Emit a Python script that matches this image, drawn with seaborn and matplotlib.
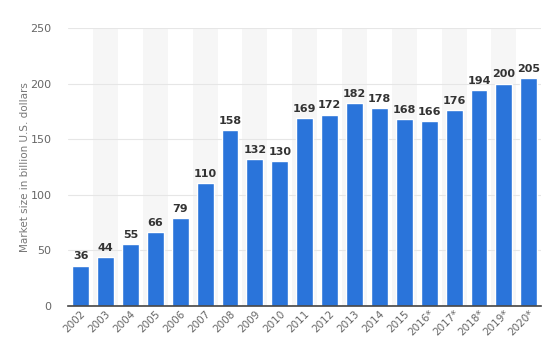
import seaborn as sns
import matplotlib.pyplot as plt
import pandas as pd

years = ['2002', '2003', '2004', '2005', '2006', '2007', '2008', '2009', '2010',
         '2011', '2012', '2013', '2014', '2015', '2016*', '2017*', '2018*',
         '2019*', '2020*']
market_size = [36, 44, 55, 66, 79, 110, 158, 132, 130, 169, 172, 182, 178,
               168, 166, 176, 194, 200, 205]
y_ticks = [0, 50, 100, 150, 200, 250]

df = pd.DataFrame({'year': years, 'size': market_size})

sns.set_style('white')
fig = plt.figure(figsize=(5.54, 3.5), dpi=100)
ax = fig.add_axes([0.123, 0.127, 0.854, 0.793])

# alternating column bands
for i in range(len(years)):
    if i % 2 == 1:
        ax.axvspan(i - 0.5, i + 0.5, color='#f6f6f6', zorder=0, lw=0)

sns.barplot(data=df, x='year', y='size', color='#2a74da', saturation=1,
            width=0.68, ax=ax, zorder=3)

for c in ax.containers:
    ax.bar_label(c, labels=[f'{v:.0f}' for v in market_size], padding=3,
                 fontsize=8, fontweight='bold', color='#333333')

ax.set_xlim(-0.5, len(years) - 0.5)
ax.set_ylim(0, 250)
ax.set_yticks(y_ticks)
ax.yaxis.grid(True, color='#e6e6e6', lw=0.8, zorder=1)
ax.set_axisbelow(True)
ax.tick_params(axis='y', labelsize=8, colors='#666666', length=0, pad=12)
ax.tick_params(axis='x', labelsize=7.5, colors='#666666', length=0, pad=2)
plt.setp(ax.get_xticklabels(), rotation=45, ha='right', rotation_mode='anchor')
ax.set_xlabel('')
ax.set_ylabel('Market size in billion U.S. dollars', fontsize=7.5,
              color='#777777', labelpad=0)

for s in ['top', 'right', 'left']:
    ax.spines[s].set_visible(False)
ax.spines['bottom'].set_color('#444444')
ax.spines['bottom'].set_linewidth(1.2)
ax.spines['bottom'].set_zorder(4)

plt.savefig('out.png', dpi=100)
